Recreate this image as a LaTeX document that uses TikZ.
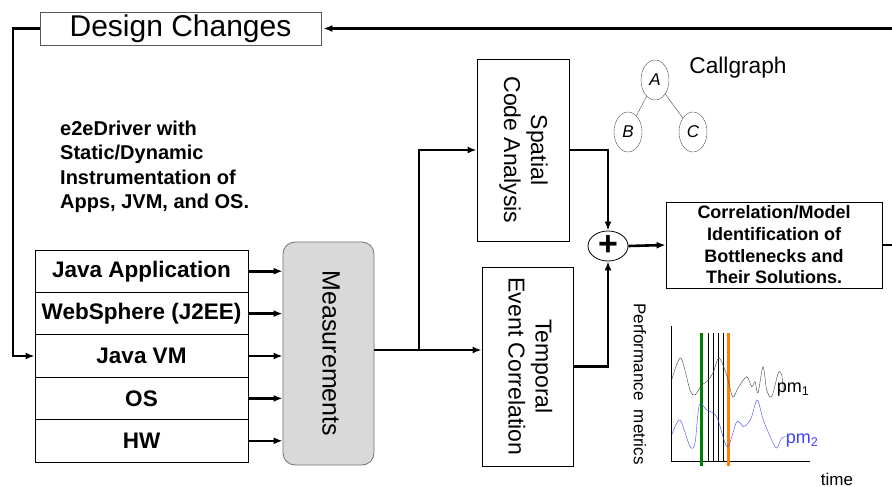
\documentclass[tikz,border=0pt]{standalone}
\usepackage{fontspec}
\setmainfont{Liberation Sans}
\usetikzlibrary{arrows.meta,shapes.geometric}

\newcommand{\vlabel}[1]{\rotatebox{-90}{\begin{tabular}{@{}c@{}}#1\end{tabular}}}

\begin{document}
\begin{tikzpicture}[x=1pt,y=-1pt,
  box/.style={draw,line width=0.8pt,inner sep=0pt},
  layer/.style={box,minimum width=213pt,minimum height=42.4pt,font=\fontsize{22.5}{26}\selectfont\bfseries},
  flow/.style={line width=2.6pt,-{Latex[length=9pt,width=7pt]}},
  vbox/.style={box,font=\fontsize{23}{27}\selectfont},
  callnode/.style={ellipse,draw=black!70,minimum width=28pt,minimum height=40pt,inner sep=0pt,font=\fontsize{17}{17}\selectfont\itshape}]
  \useasboundingbox (0,0) rectangle (892,487);

  % Design changes
  \node[box,draw=black!65,minimum width=281pt,minimum height=33pt,font=\fontsize{30}{34}\selectfont] (design) at (180.5,28.5) {Design Changes};

  % Software/hardware stack
  \foreach \name/\txt [count=\i from 0] in {app/Java Application,was/WebSphere (J2EE),jvm/Java VM,os/OS,hw/HW}
    \node[layer] (\name) at (141.5,271.2+42.4*\i) {\txt};

  % Instrumentation note
  \node[anchor=north west,align=left,inner sep=0pt,font=\fontsize{20}{24.3}\selectfont\bfseries] (note) at (60,121) {e2eDriver with\\Static/Dynamic\\Instrumentation of\\Apps, JVM, and OS.};

  % Measurements
  \node[box,draw=black!55,fill=black!15,rounded corners=12pt,minimum width=91pt,minimum height=223pt,font=\fontsize{25}{30}\selectfont] (meas) at (328.5,353.5) {\vlabel{Measurements}};
  \foreach \name in {app,was,jvm,os,hw}
    \draw[flow] (\name.east) -- (\name.east -| meas.west);

  % Analysis boxes
  \node[vbox,minimum width=92pt,minimum height=182pt] (spatial) at (523,150) {\vlabel{Spatial\\Code Analysis}};
  \node[vbox,minimum width=91pt,minimum height=199pt] (temporal) at (527.5,366.5) {\vlabel{Temporal\\Event Correlation}};
  \coordinate (split) at (419,350);
  \draw[line width=2.6pt] (meas.east |- split) -- (split);
  \draw[flow] (split) |- (spatial.west);
  \draw[flow] (split) -- (temporal.west |- split);

  % Combination and correlation
  \node[ellipse,draw,line width=0.8pt,minimum width=40pt,minimum height=30pt,inner sep=0pt,font=\fontsize{34}{34}\selectfont\bfseries] (plus) at (608,246) {+};
  \draw[flow] (spatial.east) -| (plus.north);
  \draw[flow] (temporal.east) -| (plus.south);
  \node[box,minimum width=216pt,minimum height=86pt,align=center,font=\fontsize{18}{21.7}\selectfont\bfseries] (corr) at (774,245) {Correlation/Model\\Identification of\\Bottlenecks and\\Their Solutions.};
  \draw[flow] (plus.east) -- (corr.west);

  % Feedback loop
  \coordinate (loop) at (897,28.5);
  \coordinate (back) at (13,28.5);
  \draw[flow,shorten >=2pt] (corr.east) -- (corr.east -| loop) -- (loop) -- (design.east);
  \draw[flow] (design.west) -- (back) |- (jvm.west);

  % Callgraph
  \node[callnode] (A) at (655,80) {A};
  \node[callnode] (B) at (628,132) {B};
  \node[callnode] (C) at (693,132) {C};
  \draw[black!70] (A) -- (B) (A) -- (C);
  \node[font=\fontsize{22.7}{26}\selectfont] (cg) at (738,68) {Callgraph};

  % Performance metrics plot
  \node[font=\fontsize{17}{20}\selectfont] (pmaxis) at (640,384) {\rotatebox{-90}{Performance\ \ metrics}};
  \draw (671,326) -- (671,461.5) -- (810,461.5);
  \draw[line width=3pt,green!50!black] (701.7,333) -- (701.7,466);
  \draw[line width=3pt,orange] (728.7,333) -- (728.7,466);
  \foreach \x in {707.7,712.7,718.3,723.3}
    \draw (\x,333) -- (\x,461);
  \draw[black!75] plot[smooth,tension=0.5] coordinates {(671.7,380) (680.7,358) (690,390) (695,395) (701.7,385) (706.7,381.7) (713,373) (719,358) (726.7,375) (732.7,397) (738,388) (746.7,376.7) (751.7,386.7) (755,381.7) (758,393) (763,366.7) (766.7,390) (771.7,396.7) (778.3,373) (781.7,375) (783.3,390)};
  \draw[blue!75] plot[smooth,tension=0.5] coordinates {(671.7,435) (680,420) (690,446.7) (695,443) (699.3,405) (706.7,410) (716.7,416.7) (727.3,446.7) (736.7,421.7) (743.3,426.7) (748.3,423) (751.7,416.7) (757.3,400) (763.3,420) (771.7,440) (776.7,448) (781.7,438) (786.7,436.7)};
  \node[font=\fontsize{18}{20}\selectfont] (pm1) at (793,390) {pm\textsubscript{1}};
  \node[font=\fontsize{18}{20}\selectfont,blue!75] (pm2) at (802,441) {pm\textsubscript{2}};
  \node[font=\fontsize{17}{20}\selectfont] (time) at (837,479) {time};

\end{tikzpicture}
\end{document}
